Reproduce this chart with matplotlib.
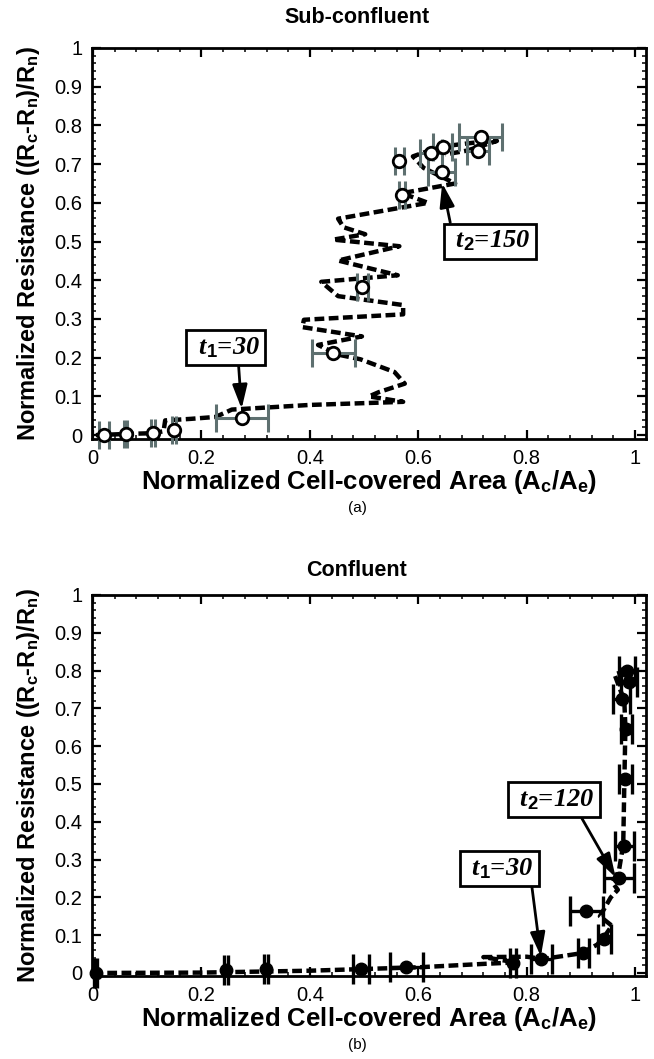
import matplotlib.pyplot as plt
from matplotlib.ticker import MultipleLocator, FormatStrFormatter

plt.rcParams['font.family'] = 'Liberation Sans'
plt.rcParams['mathtext.fontset'] = 'custom'
plt.rcParams['mathtext.rm'] = 'Liberation Sans:bold'
plt.rcParams['mathtext.bf'] = 'Liberation Sans:bold'
plt.rcParams['mathtext.it'] = 'Liberation Serif:bold:italic'

# (a) sub-confluent: measured points with x error bars
sub_x = [0.020, 0.060, 0.110, 0.149, 0.274, 0.443, 0.497, 0.570, 0.565, 0.624, 0.645, 0.643, 0.710, 0.715]
sub_y = [0.000, 0.004, 0.006, 0.013, 0.045, 0.212, 0.382, 0.621, 0.707, 0.728, 0.745, 0.679, 0.734, 0.771]
sub_xerr = [0.010, 0.003, 0.004, 0.004, 0.048, 0.040, 0.010, 0.005, 0.008, 0.020, 0.018, 0.025, 0.020, 0.040]

# (a) sub-confluent: dashed trajectory
sub_line_x = [0.005, 0.060, 0.110, 0.130, 0.133, 0.180, 0.226, 0.256, 0.400, 0.572,
              0.509, 0.527, 0.575, 0.556, 0.493, 0.452, 0.415, 0.496, 0.386, 0.389,
              0.572, 0.572, 0.452, 0.421, 0.562, 0.452, 0.565, 0.443, 0.502, 0.462,
              0.452, 0.618, 0.570, 0.668, 0.610, 0.590, 0.640, 0.700, 0.745, 0.690, 0.650]
sub_line_y = [0.000, 0.003, 0.005, 0.010, 0.038, 0.042, 0.047, 0.066, 0.078, 0.086,
              0.100, 0.111, 0.133, 0.163, 0.196, 0.208, 0.233, 0.255, 0.279, 0.298,
              0.312, 0.336, 0.359, 0.396, 0.413, 0.451, 0.488, 0.505, 0.519, 0.537,
              0.559, 0.600, 0.625, 0.650, 0.690, 0.720, 0.745, 0.755, 0.760, 0.735, 0.725]

# (b) confluent: measured points with x error bars
conf_x = [0.005, 0.245, 0.319, 0.494, 0.578, 0.775, 0.827, 0.904, 0.943, 0.910,
          0.970, 0.980, 0.982, 0.984, 0.975, 0.985, 0.988]
conf_y = [0.000, 0.009, 0.011, 0.011, 0.016, 0.027, 0.036, 0.053, 0.091, 0.165,
          0.252, 0.335, 0.513, 0.645, 0.724, 0.800, 0.770]
conf_xerr = [0.003, 0.003, 0.003, 0.015, 0.030, 0.005, 0.020, 0.010, 0.012, 0.030,
             0.028, 0.018, 0.012, 0.010, 0.015, 0.015, 0.015]

# (b) confluent: dashed trajectory
conf_line_x = [0.000, 0.200, 0.400, 0.600, 0.720, 0.780, 0.720, 0.800, 0.830, 0.900,
               0.930, 0.945, 0.957, 0.935, 0.945, 0.955, 0.968, 0.958, 0.970, 0.978,
               0.980, 0.982, 0.980, 0.962, 0.985]
conf_line_y = [0.000, 0.001, 0.006, 0.015, 0.024, 0.028, 0.042, 0.043, 0.037, 0.052,
               0.075, 0.100, 0.125, 0.150, 0.175, 0.200, 0.220, 0.240, 0.270, 0.340,
               0.500, 0.650, 0.720, 0.790, 0.800]

GREY = "#5e7070"
DASH = (0, (2.2, 1.0))

fig = plt.figure(figsize=(6.54, 10.59), dpi=100)
ax1 = fig.add_axes([92 / 654, 1 - 439 / 1059, 554 / 654, 391 / 1059])
ax2 = fig.add_axes([92 / 654, 1 - 976 / 1059, 554 / 654, 381 / 1059])


def style(ax, ybottom):
    ax.set_xlim(-0.002, 1.02)
    ax.set_ylim(ybottom, 1.0)
    ax.xaxis.set_major_locator(MultipleLocator(0.2))
    ax.xaxis.set_minor_locator(MultipleLocator(0.04))
    ax.yaxis.set_major_locator(MultipleLocator(0.1))
    ax.yaxis.set_minor_locator(MultipleLocator(0.02))
    ax.xaxis.set_major_formatter(FormatStrFormatter('%g'))
    ax.yaxis.set_major_formatter(FormatStrFormatter('%g'))
    ax.tick_params(which='both', direction='in', top=True, right=True)
    ax.tick_params(which='major', length=6.5, width=1.6, labelsize=14.5, pad=7)
    ax.tick_params(which='minor', length=3, width=1.1)
    for s in ax.spines.values():
        s.set_linewidth(2.0)
    ax.set_xlabel(r"Normalized Cell-covered Area (A$_\mathrm{c}$/A$_\mathrm{e}$)",
                  fontsize=18.5, fontweight='bold', labelpad=0)
    ax.set_ylabel(r"Normalized Resistance ((R$_\mathrm{c}$-R$_\mathrm{n}$)/R$_\mathrm{n}$)",
                  fontsize=17, fontweight='bold', labelpad=9)


def tag(ax, txt, box_xy, tip_xy, relpos):
    ax.annotate(txt, xy=tip_xy, xytext=box_xy, ha='center', va='center',
                fontsize=19, fontweight='bold', fontstyle='italic', family='Liberation Serif',
                bbox=dict(boxstyle='square,pad=0.2', fc='white', ec='black', lw=2),
                arrowprops=dict(arrowstyle='-|>,head_length=0.9,head_width=0.28',
                                color='black', lw=2, mutation_scale=16,
                                shrinkA=0, shrinkB=0, relpos=relpos),
                zorder=6)


# ---- (a) Sub-confluent
style(ax1, -0.01)
ax1.plot(sub_line_x, sub_line_y, color='black', lw=3.2, linestyle=DASH, zorder=2)
ax1.errorbar(sub_x, sub_y, xerr=sub_xerr, fmt='none', ecolor=GREY, elinewidth=2.2,
             capsize=10, capthick=2.2, zorder=3, clip_on=False)
ax1.plot(sub_x, sub_y, 'o', ms=9, mfc='white', mec='black', mew=2.0, zorder=4, clip_on=False)
ax1.set_title("Sub-confluent", fontsize=15.5, fontweight='bold', x=0.478, pad=18)
tag(ax1, r" t$_\mathit{1}$=30 ", (0.245, 0.226), (0.274, 0.068), (0.68, 0.0))
tag(ax1, r" t$_\mathit{2}$=150 ", (0.732, 0.501), (0.644, 0.651), (0.03, 1.0))
fig.text(357 / 654, 1 - 508 / 1059, "(a)", ha='center', va='center', fontsize=11)

# ---- (b) Confluent
style(ax2, -0.008)
ax2.plot(conf_line_x, conf_line_y, color='black', lw=3.2, linestyle=DASH, zorder=2)
ax2.errorbar(conf_x, conf_y, xerr=conf_xerr, fmt='none', ecolor='black', elinewidth=2.4,
             capsize=11, capthick=2.4, zorder=3, clip_on=False)
ax2.plot(conf_x, conf_y, 'o', ms=9, mfc='black', mec='black', zorder=4, clip_on=False)
ax2.set_title("Confluent", fontsize=15.5, fontweight='bold', x=0.478, pad=14)
tag(ax2, r" t$_\mathit{2}$=120 ", (0.85, 0.458), (0.964, 0.253), (0.8, 0.0))
tag(ax2, r" t$_\mathit{1}$=30 ", (0.75, 0.277), (0.826, 0.044), (0.96, 0.0))
fig.text(357 / 654, 1 - 1045 / 1059, "(b)", ha='center', va='center', fontsize=11)

fig.savefig("out.png", dpi=100)
